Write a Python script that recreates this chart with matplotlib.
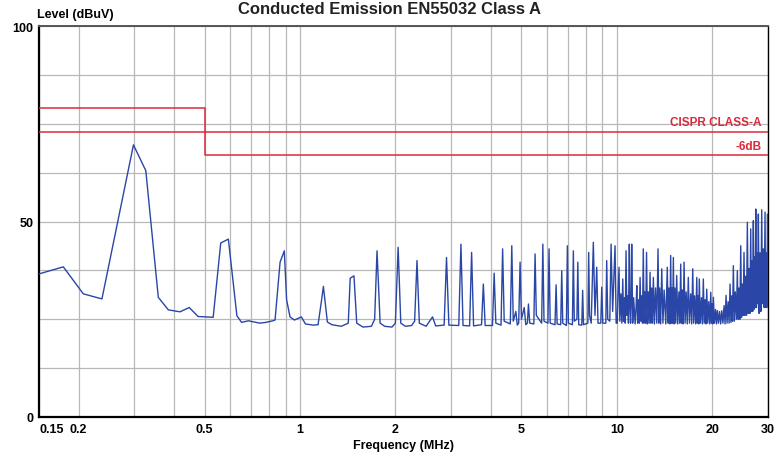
"""Conducted emission scan (EN55032 class A) redrawn with matplotlib."""

import matplotlib
matplotlib.use('Agg')
import matplotlib.pyplot as plt
from matplotlib.ticker import FixedLocator, NullFormatter

# Measured trace, MHz / dBuV, split in three frequency bands
low_f = [0.15, 0.179, 0.207, 0.237, 0.298, 0.326, 0.357, 0.384, 0.418, 0.447,
         0.477, 0.532, 0.562, 0.594, 0.632, 0.654, 0.687, 0.747, 0.78, 0.82,
         0.834, 0.865, 0.892, 0.907, 0.93, 0.96, 1.01, 1.04, 1.10, 1.14,
         1.17, 1.185, 1.22, 1.26, 1.35, 1.42, 1.44, 1.48, 1.51, 1.58,
         1.68, 1.72, 1.75, 1.79, 1.85, 1.95, 2.0, 2.04, 2.08, 2.15,
         2.25, 2.30, 2.34, 2.38, 2.50, 2.62, 2.68]
low_db = [36.6, 38.4, 31.5, 30.2, 69.6, 63.0, 30.6, 27.4, 26.9, 28.0,
          25.7, 25.5, 44.5, 45.5, 25.9, 24.2, 24.6, 24.0, 24.2, 24.6,
          24.8, 39.6, 42.5, 30.0, 25.6, 24.8, 25.6, 23.8, 23.5, 23.6,
          30.0, 33.4, 24.3, 23.6, 23.2, 24.0, 35.5, 36.1, 24.0, 23.0,
          23.2, 25.0, 42.5, 24.0, 23.2, 23.0, 24.0, 43.4, 24.0, 23.2,
          23.4, 24.5, 40.0, 24.0, 23.2, 25.6, 23.3]

mid_f = [2.85, 2.90, 2.95, 3.17, 3.22, 3.27, 3.43, 3.48, 3.53, 3.74,
         3.79, 3.84, 4.05, 4.10, 4.15, 4.31, 4.36, 4.41, 4.61, 4.66,
         4.71, 4.80, 4.85, 4.90, 4.95, 5.00, 5.10, 5.16, 5.22, 5.26,
         5.31, 5.47, 5.52, 5.57, 5.79, 5.84, 5.89, 6.06, 6.11, 6.16,
         6.38, 6.43, 6.48, 6.65, 6.70, 6.75, 6.93, 6.98, 7.03, 7.24,
         7.29, 7.34, 7.48, 7.53, 7.58, 7.75, 7.80, 7.85, 8.10, 8.15,
         8.20, 8.30, 8.43, 8.53, 8.64, 8.72, 8.90, 8.96, 9.03, 9.23,
         9.29, 9.36, 9.50, 9.59, 9.70, 9.87, 9.95]
mid_db = [23.5, 40.8, 23.5, 23.4, 44.2, 23.4, 23.3, 42.1, 23.3, 23.6,
          34.0, 23.4, 23.4, 36.8, 24.0, 23.5, 43.0, 24.5, 23.8, 43.8,
          24.5, 27.0, 23.5, 24.0, 39.6, 25.0, 28.0, 23.6, 24.0, 28.9,
          24.0, 23.8, 41.7, 26.0, 24.0, 44.2, 24.5, 24.0, 43.0, 24.0,
          23.6, 33.8, 23.8, 23.6, 37.4, 24.0, 23.4, 43.8, 24.0, 23.6,
          42.5, 24.5, 25.0, 39.6, 23.6, 23.5, 32.4, 23.6, 24.0, 42.1,
          26.0, 24.0, 44.7, 26.0, 38.3, 24.0, 24.0, 33.2, 24.0, 24.0,
          40.0, 25.0, 24.5, 44.2, 27.0, 43.8, 24.0]

high_f = [10.03, 10.08, 10.16, 10.22, 10.30, 10.37, 10.44, 10.50, 10.57, 10.63,
          10.69, 10.76, 10.82, 10.88, 10.95, 11.00, 11.05, 11.10, 11.14, 11.22,
          11.30, 11.42, 11.50, 11.56, 11.63, 11.70, 11.77, 11.84, 11.91, 11.98,
          12.05, 12.12, 12.19, 12.25, 12.33, 12.41, 12.49, 12.57, 12.65, 12.73,
          12.80, 12.88, 12.96, 13.04, 13.14, 13.25, 13.37, 13.49, 13.57, 13.65,
          13.75, 13.86, 13.98, 14.10, 14.27, 14.43, 14.52, 14.60, 14.70, 14.79,
          14.86, 14.93, 15.00, 15.08, 15.16, 15.25, 15.35, 15.45, 15.57, 15.70,
          15.80, 15.91, 16.00, 16.10, 16.20, 16.30, 16.42, 16.55, 16.68, 16.81,
          16.95, 17.10, 17.23, 17.36, 17.48, 17.60, 17.74, 17.88, 17.96, 18.05,
          18.13, 18.21, 18.35, 18.50, 18.62, 18.75, 18.87, 19.00, 19.11, 19.22,
          19.36, 19.50, 19.65, 19.79, 19.90, 20.00, 20.08, 20.17, 20.33, 20.50,
          20.63, 20.77, 20.93, 21.10, 21.27, 21.44, 21.62, 21.80, 21.96, 22.12,
          22.28, 22.45, 22.61, 22.77, 22.91, 23.05, 23.18, 23.32, 23.48, 23.65,
          23.83, 24.01, 24.15, 24.30, 24.45, 24.61, 24.75, 24.90, 25.05, 25.20,
          25.35, 25.50, 25.66, 25.82, 25.98, 26.15, 26.30, 26.46, 26.58, 26.70,
          26.84, 26.97, 27.08, 27.20, 27.32, 27.45, 27.58, 27.70, 27.84, 27.97,
          28.13, 28.30, 28.48, 28.66, 28.83, 29.00, 29.18, 29.36, 29.48, 29.60,
          29.75, 29.90, 30.0]
high_db = [24.0, 31.0, 38.3, 24.5, 31.5, 24.0, 35.3, 24.5, 30.5, 24.0,
           42.5, 26.0, 31.0, 24.0, 44.2, 28.0, 24.0, 30.0, 44.2, 24.0,
           30.5, 23.8, 28.0, 33.6, 24.0, 30.0, 24.0, 35.7, 24.5, 31.0,
           24.0, 43.0, 24.0, 32.0, 24.0, 42.1, 23.8, 32.0, 24.0, 37.0,
           24.0, 33.0, 24.0, 35.7, 23.8, 33.0, 24.0, 43.0, 24.0, 33.0,
           23.8, 37.9, 24.0, 32.5, 23.8, 38.3, 24.0, 33.0, 23.8, 41.3,
           24.0, 33.0, 24.0, 40.8, 23.8, 33.0, 24.0, 36.2, 23.8, 32.0,
           24.0, 39.1, 24.0, 32.5, 23.8, 39.6, 24.0, 32.0, 23.8, 35.7,
           24.0, 31.5, 23.8, 37.9, 24.0, 31.0, 23.8, 35.7, 24.0, 31.0,
           23.8, 35.3, 24.0, 30.5, 23.8, 35.3, 24.0, 30.0, 23.8, 32.7,
           24.0, 29.5, 23.8, 31.9, 24.0, 29.0, 23.8, 30.6, 24.0, 27.5,
           23.8, 27.2, 24.0, 27.0, 23.8, 27.2, 24.0, 28.5, 23.8, 31.1,
           24.0, 29.5, 24.0, 34.0, 24.2, 31.0, 24.5, 38.7, 24.5, 32.0,
           25.0, 37.4, 25.0, 33.0, 25.0, 43.8, 25.5, 34.0, 26.0, 42.1,
           26.0, 36.0, 26.0, 49.8, 26.5, 38.0, 26.5, 48.1, 27.0, 40.0,
           27.0, 50.2, 27.5, 41.0, 28.0, 53.2, 28.0, 42.0, 29.0, 51.9,
           26.5, 42.0, 27.0, 53.0, 29.0, 43.0, 28.0, 52.4, 28.0, 42.0,
           28.0, 51.9, 30.0]

# Limit lines (CISPR 32 class A, quasi-peak) and the 6 dB margin
limit_f = [0.15, 0.5, 0.5, 30.0]
limit_db = [79.0, 79.0, 73.0, 73.0]
margin_db = [73.0, 73.0, 67.0, 67.0]

x_ticks = [0.15, 0.2, 0.5, 1, 2, 5, 10, 20, 30]
x_tick_labels = ['0.15', '0.2', '0.5', '1', '2', '5', '10', '20', '30']
x_grid = [0.3, 0.4, 0.6, 0.7, 0.8, 0.9, 3, 4, 6, 7, 8, 9]
y_ticks = [0, 50, 100]
y_grid = [12.5, 25, 37.5, 62.5, 75, 87.5]

trace_color = '#2a46a6'
limit_color = '#d92a3c'
grid_color = '#b8b8b8'

plt.rcParams['font.family'] = ['Liberation Sans', 'DejaVu Sans']

fig = plt.figure(figsize=(7.78, 4.60), dpi=100)
ax = fig.add_axes([39 / 778, 42 / 460, 729 / 778, 391 / 460])

ax.set_xscale('log')
ax.set_xlim(0.15, 30)
ax.set_ylim(0, 100)

ax.xaxis.set_major_locator(FixedLocator(x_ticks))
ax.xaxis.set_minor_locator(FixedLocator(x_grid))
ax.xaxis.set_minor_formatter(NullFormatter())
ax.set_xticklabels(x_tick_labels)
ax.yaxis.set_major_locator(FixedLocator(y_ticks))
ax.yaxis.set_minor_locator(FixedLocator(y_grid))

ax.grid(True, which='both', color=grid_color, linewidth=0.9)
ax.set_axisbelow(True)
ax.tick_params(which='both', length=0, labelsize=9, pad=4)
for lab in ax.get_xticklabels() + ax.get_yticklabels():
    lab.set_fontweight('bold')
ax.get_xticklabels()[0].set_horizontalalignment('left')

ax.plot(limit_f, limit_db, color=limit_color, lw=1.1, zorder=3)
ax.plot(limit_f, margin_db, color=limit_color, lw=1.1, zorder=3)

trace_f = low_f + mid_f + high_f
trace_db = low_db + mid_db + high_db
ax.plot(trace_f, trace_db, color=trace_color, lw=1.0, zorder=4)

ax.text(0.991, 75.4, 'CISPR CLASS-A', transform=ax.get_yaxis_transform(),
        ha='right', va='center', color=limit_color, fontsize=8.5,
        fontweight='bold')
ax.text(0.991, 69.3, '-6dB', transform=ax.get_yaxis_transform(),
        ha='right', va='center', color=limit_color, fontsize=8.5,
        fontweight='bold')

for side in ('left', 'bottom', 'right'):
    ax.spines[side].set_color('black')
ax.spines['left'].set_linewidth(1.6)
ax.spines['bottom'].set_linewidth(1.6)
ax.spines['right'].set_linewidth(1.0)
ax.spines['top'].set_color('#555555')
ax.spines['top'].set_linewidth(1.4)

ax.set_xlabel('Frequency (MHz)', fontsize=9, fontweight='bold', labelpad=3)
fig.text(37 / 778, 1 - 15 / 460, 'Level (dBuV)', ha='left', va='center',
         fontsize=9, fontweight='bold')
# the source image crops the title; keep it just inside the canvas here
fig.text(0.5, 1 - 1.5 / 460, 'Conducted Emission EN55032 Class A',
         ha='center', va='top', fontsize=12, fontweight='bold',
         color='#222222')

fig.savefig('out.png', dpi=100)
